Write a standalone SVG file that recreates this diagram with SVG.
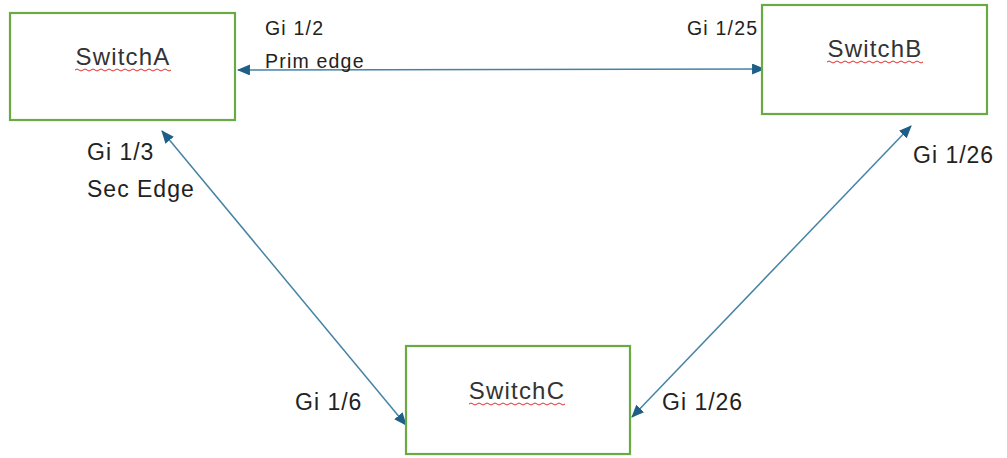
<svg xmlns="http://www.w3.org/2000/svg" width="1007" height="458" viewBox="0 0 1007 458">
<style>
.box{fill:#fff;stroke:#6aaa45;stroke-width:2.2}
.sm{font-family:"Liberation Sans",Arial,sans-serif;font-size:19.5px;letter-spacing:1.2px;fill:#222}
.lg{font-family:"Liberation Sans",Arial,sans-serif;font-size:23px;letter-spacing:1px;fill:#222}
.name{font-family:"Liberation Sans",Arial,sans-serif;font-size:24px;letter-spacing:1.2px;fill:#333;text-anchor:middle}
.link{stroke:#4583a5;stroke-width:1.5;fill:none;marker-start:url(#ah);marker-end:url(#ah)}
.squig{stroke:#e03030;stroke-width:1;fill:none}
</style>
<defs>
<marker id="ah" viewBox="0 0 12 10" refX="11" refY="5" markerWidth="13" markerHeight="11" markerUnits="userSpaceOnUse" orient="auto-start-reverse">
<path d="M0,0 L12,5 L0,10 Z" fill="#1d5f86"/>
</marker>
</defs>
<rect width="1007" height="458" fill="#fff"/>
<g id="connectors">
<line class="link" x1="238" y1="70" x2="764" y2="69"/>
<line class="link" x1="162" y1="131" x2="406" y2="425"/>
<line class="link" x1="911" y1="126" x2="632" y2="417"/>
</g>
<g id="switchA">
<rect class="box" x="10" y="13" width="225" height="107"/>
<text class="name" x="123" y="65">SwitchA</text>
<path class="squig" d="M75,70 q2,-2 4,0 t4,0 t4,0 t4,0 t4,0 t4,0 t4,0 t4,0 t4,0 t4,0 t4,0 t4,0 t4,0 t4,0 t4,0 t4,0 t4,0 t4,0 t4,0 t4,0 t4,0 t4,0 t4,0 t4,0"/>
</g>
<g id="switchB">
<rect class="box" x="762" y="5" width="225" height="109"/>
<text class="name" x="875" y="57">SwitchB</text>
<path class="squig" d="M827,62 q2,-2 4,0 t4,0 t4,0 t4,0 t4,0 t4,0 t4,0 t4,0 t4,0 t4,0 t4,0 t4,0 t4,0 t4,0 t4,0 t4,0 t4,0 t4,0 t4,0 t4,0 t4,0 t4,0 t4,0 t4,0"/>
</g>
<g id="switchC">
<rect class="box" x="406" y="346" width="224" height="108"/>
<text class="name" x="517" y="399">SwitchC</text>
<path class="squig" d="M469,404 q2,-2 4,0 t4,0 t4,0 t4,0 t4,0 t4,0 t4,0 t4,0 t4,0 t4,0 t4,0 t4,0 t4,0 t4,0 t4,0 t4,0 t4,0 t4,0 t4,0 t4,0 t4,0 t4,0 t4,0 t4,0"/>
</g>
<g id="labels">
<text class="sm" x="265" y="35">Gi 1/2</text>
<text class="sm" x="265" y="68">Prim edge</text>
<text class="sm" x="687" y="35">Gi 1/25</text>
<text class="lg" x="913" y="163">Gi 1/26</text>
<text class="lg" x="87" y="160">Gi 1/3</text>
<text class="lg" x="87" y="197">Sec Edge</text>
<text class="lg" x="295" y="410">Gi 1/6</text>
<text class="lg" x="662" y="410">Gi 1/26</text>
</g>
</svg>
